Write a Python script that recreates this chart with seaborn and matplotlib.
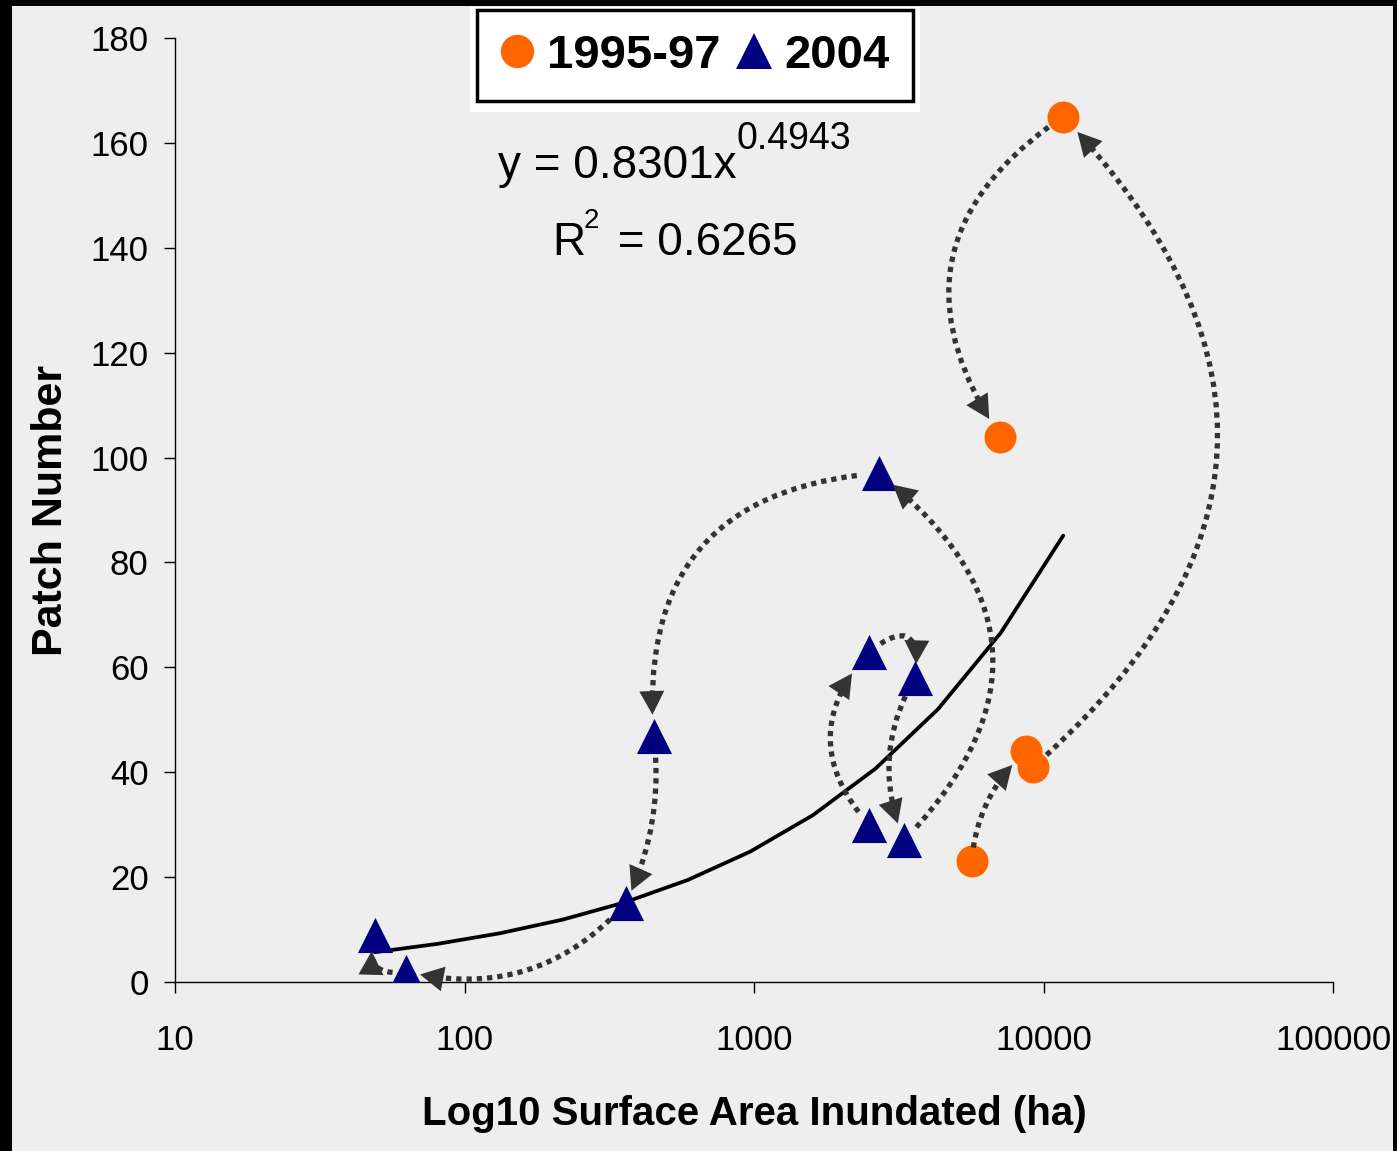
import numpy as np
import pandas as pd
import matplotlib
matplotlib.use('Agg')
import matplotlib.pyplot as plt
from matplotlib.lines import Line2D
from matplotlib.patches import Rectangle
from matplotlib.ticker import FixedLocator, FixedFormatter, NullLocator
import seaborn as sns

## data
area_9597 = [11700, 7100, 8700, 9200, 5650]
patch_9597 = [165, 104, 44, 41, 23]
area_2004 = [49, 63, 360, 450, 2700, 2500, 3600, 2500, 3300]
patch_2004 = [9, 2, 15, 47, 97, 63, 58, 30, 27]

series_names = ['1995-97', '2004']
x_ticks = [10, 100, 1000, 10000, 100000]
x_ticklabels = ['10', '100', '1000', '10000', '100000']
y_ticks = [0, 20, 40, 60, 80, 100, 120, 140, 160, 180]

## power trendline shown on the chart
trend_a = 0.8301
trend_b = 0.4943

## arrows: (from series, from index, to series, to index, curvature, shrinkA, shrinkB)
arrows = [
    ('1995-97', 0, '1995-97', 1, 0.5, 13, 15),
    ('1995-97', 3, '1995-97', 0, 0.52, 13, 15),
    ('1995-97', 4, '1995-97', 2, -0.2, 10, 14),
    ('2004', 8, '2004', 4, 0.55, 13, 13),
    ('2004', 4, '2004', 3, 0.5, 16, 15),
    ('2004', 3, '2004', 2, -0.15, 16, 10),
    ('2004', 2, '2004', 1, -0.3, 16, 10),
    ('2004', 1, '2004', 0, -0.8, 10, 12),
    ('2004', 7, '2004', 5, -0.45, 12, 20),
    ('2004', 5, '2004', 6, -1.2, 10, 10),
    ('2004', 6, '2004', 8, 0.25, 15, 13),
]

colors = {'1995-97': '#FF6600', '2004': '#000080'}
markers = {'1995-97': 'o', '2004': '^'}
sizes = {'1995-97': 530, '2004': 640}

df = pd.concat([
    pd.DataFrame({'area': area_9597, 'patch': patch_9597, 'period': '1995-97'}),
    pd.DataFrame({'area': area_2004, 'patch': patch_2004, 'period': '2004'}),
], ignore_index=True)

bg = '#eeeeee'
sns.set_style('ticks', rc={'axes.facecolor': bg, 'figure.facecolor': bg,
                           'axes.edgecolor': 'black', 'text.color': 'black',
                           'axes.labelcolor': 'black', 'xtick.color': 'black',
                           'ytick.color': 'black'})
plt.rcParams['font.family'] = ['Liberation Sans', 'DejaVu Sans']

fig = plt.figure(figsize=(13.97, 11.51), dpi=100)
W, H = 1397., 1151.
ax = fig.add_axes([175/W, 169/H, (1333-175)/W, (1113-169)/H])

## trendline
tx = np.geomspace(df['area'].min(), df['area'].max(), 12)
ax.plot(tx, trend_a*tx**trend_b, color='black', lw=2.7, zorder=2)

for name in series_names:
    sub = df[df['period'] == name]
    sns.scatterplot(data=sub, x='area', y='patch', ax=ax, marker=markers[name],
                    color=colors[name], s=sizes[name], linewidth=0, legend=False, zorder=3)

## dotted arrows: dotted body plus a solid filled head
for s0, i0, s1, i1, rad, sa, sb in arrows:
    p0 = df[df['period'] == s0].iloc[i0]
    p1 = df[df['period'] == s1].iloc[i1]
    xy = (p1['area'], p1['patch'])
    xyt = (p0['area'], p0['patch'])
    cs = 'arc3,rad=%s' % rad
    ax.annotate('', xy=xy, xytext=xyt,
                arrowprops=dict(arrowstyle='-', connectionstyle=cs, color='#333333',
                                lw=3.8, linestyle=(0, (1.0, 0.95)), capstyle='butt',
                                shrinkA=sa, shrinkB=sb + 5), zorder=4)
    ax.annotate('', xy=xy, xytext=xyt,
                arrowprops=dict(arrowstyle='-|>,head_length=0.85,head_width=0.45',
                                connectionstyle=cs, color='#333333', lw=0,
                                shrinkA=sa, shrinkB=sb, mutation_scale=20), zorder=4)

ax.set_xscale('log')
ax.set_xlim(10, 100000)
ax.set_ylim(0, 180)
ax.xaxis.set_major_locator(FixedLocator(x_ticks))
ax.xaxis.set_major_formatter(FixedFormatter(x_ticklabels))
ax.xaxis.set_minor_locator(NullLocator())
ax.set_yticks(y_ticks)
ax.tick_params(axis='both', direction='out', length=8, width=1, color='black',
               labelsize=25, labelcolor='black')
ax.tick_params(axis='x', pad=22)
ax.tick_params(axis='y', pad=11)
for sp in ['top', 'right']:
    ax.spines[sp].set_visible(False)
for sp in ['left', 'bottom']:
    ax.spines[sp].set_linewidth(1.0)

ax.set_xlabel('Log10 Surface Area Inundated (ha)', fontsize=29, fontweight='bold')
ax.set_ylabel('Patch Number', fontsize=31, fontweight='bold')
ax.xaxis.set_label_coords(0.5, -0.12)
ax.yaxis.set_label_coords(-0.09, 0.5)

## trendline equation
ax.text(0.279, 0.852, 'y = 0.8301x', transform=ax.transAxes, fontsize=33, ha='left', va='baseline')
ax.text(0.485, 0.882, '%.4f' % trend_b, transform=ax.transAxes, fontsize=27, ha='left', va='baseline')
ax.text(0.326, 0.770, 'R', transform=ax.transAxes, fontsize=33, ha='left', va='baseline')
ax.text(0.353, 0.799, '2', transform=ax.transAxes, fontsize=20, ha='left', va='baseline')
ax.text(0.371, 0.770, ' = 0.6265', transform=ax.transAxes, fontsize=33, ha='left', va='baseline')

## legend
handles = [Line2D([], [], marker=markers[n], color=colors[n], linestyle='',
                  markersize=26 if n == '2004' else 24, markeredgewidth=0) for n in series_names]
fig.add_artist(Rectangle((470/W, 1-112/H), 450/W, 105/H, transform=fig.transFigure,
                         facecolor='white', edgecolor='none', zorder=1))
leg = fig.legend(handles, series_names, loc='upper center', bbox_to_anchor=(695/W, 1-10/H),
                 borderaxespad=0, ncol=2, frameon=True, fancybox=False, framealpha=1,
                 facecolor='white', edgecolor='black', prop={'size': 34, 'weight': 'bold'},
                 handlelength=0.7, handletextpad=0.3, columnspacing=0.35, borderpad=0.5)
leg.get_frame().set_linewidth(2.5)

## black border on left, top, right
for rx, ry, rw, rh in [(0, 0, 12/W, 1), (0, 1-6/H, 1, 6/H), (1393/W, 0, 4/W, 1)]:
    fig.add_artist(Rectangle((rx, ry), rw, rh, transform=fig.transFigure,
                             facecolor='black', edgecolor='none', zorder=10))

fig.savefig('out.png', dpi=100, facecolor=bg)
